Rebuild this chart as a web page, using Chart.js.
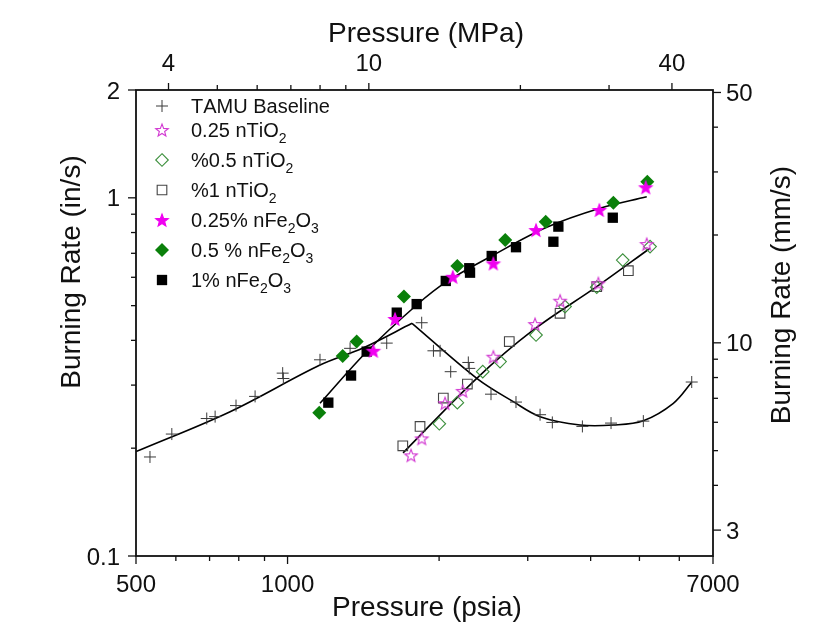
<!DOCTYPE html>
<html><head><meta charset="utf-8">
<script src="https://cdn.jsdelivr.net/npm/chart.js@4.4.1/dist/chart.umd.min.js"></script>
<style>html,body{margin:0;padding:0;background:#fff;}canvas{display:block;}</style>
</head><body>
<canvas id="c" width="836" height="643"></canvas>
<script>
// ---------- data (pressure in psia, burning rate in in/s) ----------
const tamuP = [533, 589, 691, 718, 790, 862, 978, 981, 1160, 1331, 1574, 1847, 1949, 2009, 2109, 2286, 2296, 2536, 2843, 3174, 3357, 3852, 4391, 5090, 6351];
const tamuR = [0.189, 0.219, 0.242, 0.245, 0.263, 0.279, 0.324, 0.313, 0.353, 0.380, 0.393, 0.448, 0.374, 0.374, 0.327, 0.347, 0.334, 0.283, 0.269, 0.248, 0.236, 0.230, 0.235, 0.238, 0.306];

const tio025P = [1759, 1847, 2055, 2228, 2563, 3102, 3478, 4143, 5170];
const tio025R = [0.191, 0.213, 0.267, 0.289, 0.360, 0.444, 0.516, 0.577, 0.743];

const tio05P = [2002, 2174, 2442, 2643, 3116, 3558, 4113, 4632, 5249];
const tio05R = [0.234, 0.268, 0.327, 0.349, 0.414, 0.497, 0.563, 0.670, 0.731];

const tio1P = [1694, 1833, 2039, 2276, 2757, 3478, 4113, 4753];
const tio1R = [0.203, 0.230, 0.276, 0.302, 0.397, 0.476, 0.565, 0.626];

const fe025P = [1481, 1635, 2129, 2563, 3116, 4162, 5146];
const fe025R = [0.374, 0.459, 0.602, 0.656, 0.813, 0.925, 1.070];

const fe05P = [1156, 1287, 1372, 1703, 2174, 2707, 3257, 4438, 5184];
const fe05R = [0.251, 0.362, 0.397, 0.530, 0.645, 0.763, 0.858, 0.969, 1.109];

const fe1P = [1205, 1337, 1436, 1648, 1805, 2062, 2296, 2304, 2544, 2843, 3373, 3451, 4426];
const fe1R = [0.268, 0.319, 0.372, 0.478, 0.505, 0.586, 0.636, 0.618, 0.688, 0.728, 0.754, 0.831, 0.880];

// fitted curves
const tamuRiseP = [500, 769, 1160, 1412, 1767];
const tamuRiseR = [0.1956, 0.2529, 0.3414, 0.3808, 0.4463];
const tamuFallP = [1767, 2376, 2808, 3174, 3810, 4438, 5090, 5839, 6351];
const tamuFallR = [0.4463, 0.3134, 0.2697, 0.2449, 0.2321, 0.2321, 0.2386, 0.2669, 0.3055];
const feFitP = [1160, 1436, 1805, 2071, 2544, 3272, 4175, 5170];
const feFitR = [0.2669, 0.3719, 0.5021, 0.5832, 0.688, 0.8274, 0.935, 1.007];
const tiFitP = [1696, 2376, 3078, 4113, 5249];
const tiFitR = [0.194, 0.3134, 0.4276, 0.5648, 0.7231];

// ---------- axis ticks ----------
const xMajorTicks = [500, 1000, 7000];
const xMinorTicks = [600, 700, 800, 900, 2000, 3000, 4000, 5000, 6000];
const yMajorTicks = [0.1, 1, 2];
const yMinorTicks = [0.2, 0.3, 0.4, 0.5, 0.6, 0.7, 0.8, 0.9];
const topMajorTicks = [4, 10, 40];
const topMinorTicks = [5, 6, 7, 8, 9, 20, 30];
const rightMajorTicks = [3, 10, 50];
const rightMinorTicks = [4, 5, 6, 7, 8, 9, 20, 30, 40];

const legendLabels = ['TAMU Baseline', '0.25 nTiO_2', '%0.5 nTiO_2', '%1 nTiO_2', '0.25% nFe_2O_3', '0.5 % nFe_2O_3', '1% nFe_2O_3'];

const PSI_PER_MPA = 145.038;
const MM_PER_IN = 25.4;
const FONT = '"Liberation Sans", Arial, sans-serif';

function pts(P, R) { return P.map((p, i) => ({ x: p, y: R[i] })); }

function starCanvas(fill, stroke, R) {
  const s = Math.ceil(R * 2 + 4);
  const c = document.createElement('canvas'); c.width = c.height = s;
  const g = c.getContext('2d');
  starPath(g, s / 2, s / 2 + R * 0.1, R);
  if (fill) { g.fillStyle = fill; g.fill(); }
  if (stroke) { g.strokeStyle = stroke; g.lineWidth = 1.1; g.stroke(); }
  return c;
}
function starPath(g, cx, cy, R) {
  g.beginPath();
  for (let i = 0; i < 10; i++) {
    const r = i % 2 ? R * 0.42 : R;
    const a = -Math.PI / 2 + i * Math.PI / 5;
    g.lineTo(cx + r * Math.cos(a), cy + r * Math.sin(a));
  }
  g.closePath();
}

const openStar = starCanvas(null, '#d23ad2', 6.6);
const fillStar = starCanvas('#f000f0', '#f000f0', 6.6);

const series = [
  { label: legendLabels[0], data: pts(tamuP, tamuR), pointStyle: 'cross', pointRadius: 6, borderColor: '#3a3a3a', backgroundColor: '#3a3a3a', pointBorderWidth: 1 },
  { label: legendLabels[1], data: pts(tio025P, tio025R), pointStyle: openStar, pointRadius: 7, borderColor: '#d23ad2', backgroundColor: 'rgba(0,0,0,0)' },
  { label: legendLabels[2], data: pts(tio05P, tio05R), pointStyle: 'rectRot', pointRadius: 6.3, borderColor: '#3c8f3c', backgroundColor: 'rgba(0,0,0,0)', pointBorderWidth: 1.1 },
  { label: legendLabels[3], data: pts(tio1P, tio1R), pointStyle: 'rect', pointRadius: 6.8, borderColor: '#444', backgroundColor: 'rgba(0,0,0,0)', pointBorderWidth: 1.1 },
  { label: legendLabels[4], data: pts(fe025P, fe025R), pointStyle: fillStar, pointRadius: 7, borderColor: '#f000f0', backgroundColor: '#f000f0' },
  { label: legendLabels[5], data: pts(fe05P, fe05R), pointStyle: 'rectRot', pointRadius: 7, borderColor: '#0a800a', backgroundColor: '#0a800a', pointBorderWidth: 0 },
  { label: legendLabels[6], data: pts(fe1P, fe1R), pointStyle: 'rect', pointRadius: 7.3, borderColor: '#000', backgroundColor: '#000', pointBorderWidth: 0 },
];

function curve(P, R) {
  return { type: 'line', data: pts(P, R), borderColor: '#000', borderWidth: 1.6, pointRadius: 0, tension: 0.35, fill: false, order: 10 };
}

const datasets = series.map(s => Object.assign({ showLine: false, order: 1 }, s)).concat([
  curve(tamuRiseP, tamuRiseR), curve(tamuFallP, tamuFallR), curve(feFitP, feFitR), curve(tiFitP, tiFitR)
]);

function drawSymbol(ctx, s, x, y) {
  const st = s.pointStyle, r = s.pointRadius;
  ctx.save();
  ctx.strokeStyle = s.borderColor; ctx.fillStyle = s.backgroundColor;
  ctx.lineWidth = s.pointBorderWidth || 1;
  if (st instanceof HTMLCanvasElement) {
    ctx.drawImage(st, x - st.width / 2, y - st.height / 2);
  } else if (st === 'cross') {
    ctx.beginPath(); ctx.moveTo(x - r, y); ctx.lineTo(x + r, y); ctx.moveTo(x, y - r); ctx.lineTo(x, y + r); ctx.stroke();
  } else if (st === 'rect') {
    const h = r * Math.SQRT1_2;
    ctx.beginPath(); ctx.rect(x - h, y - h, 2 * h, 2 * h); ctx.fill(); if (s.pointBorderWidth) ctx.stroke();
  } else if (st === 'rectRot') {
    ctx.beginPath(); ctx.moveTo(x, y - r); ctx.lineTo(x + r, y); ctx.lineTo(x, y + r); ctx.lineTo(x - r, y); ctx.closePath();
    ctx.fill(); if (s.pointBorderWidth) ctx.stroke();
  }
  ctx.restore();
}

function drawRich(ctx, text, x, y) {
  // "_d" marks a subscript digit
  let cx = x;
  for (let i = 0; i < text.length; i++) {
    const ch = text[i];
    if (ch === '_' && i + 1 < text.length) {
      ctx.font = '14px ' + FONT;
      ctx.fillText(text[i + 1], cx, y + 6);
      cx += ctx.measureText(text[i + 1]).width;
      i++;
    } else {
      ctx.font = '20px ' + FONT;
      ctx.fillText(ch, cx, y);
      cx += ctx.measureText(ch).width;
    }
  }
}

const axesPlugin = {
  id: 'axesPlugin',
  afterDraw(chart) {
    const { ctx, chartArea: a, scales } = chart;
    const sx = scales.x, sy = scales.y, sx2 = scales.x2, sy2 = scales.y2;
    ctx.save();
    ctx.strokeStyle = '#111'; ctx.fillStyle = '#111';
    ctx.lineWidth = 1.8;
    ctx.strokeRect(a.left, a.top, a.right - a.left, a.bottom - a.top);

    ctx.lineWidth = 1.3;
    const tick = (x1, y1, x2, y2) => { ctx.beginPath(); ctx.moveTo(x1, y1); ctx.lineTo(x2, y2); ctx.stroke(); };
    // bottom
    xMajorTicks.forEach(v => { const px = sx.getPixelForValue(v); tick(px, a.bottom, px, a.bottom + 8); });
    xMinorTicks.forEach(v => { const px = sx.getPixelForValue(v); tick(px, a.bottom, px, a.bottom + 5); });
    // left
    yMajorTicks.forEach(v => { const py = sy.getPixelForValue(v); tick(a.left, py, a.left - 8, py); });
    yMinorTicks.forEach(v => { const py = sy.getPixelForValue(v); tick(a.left, py, a.left - 5, py); });
    // top
    topMajorTicks.forEach(v => { const px = sx2.getPixelForValue(v); tick(px, a.top, px, a.top - 7); });
    topMinorTicks.forEach(v => { const px = sx2.getPixelForValue(v); tick(px, a.top, px, a.top - 5); });
    // right
    rightMajorTicks.forEach(v => { const py = sy2.getPixelForValue(v); tick(a.right, py, a.right + 8, py); });
    rightMinorTicks.forEach(v => { const py = sy2.getPixelForValue(v); tick(a.right, py, a.right + 5, py); });

    // tick labels
    ctx.font = '24px ' + FONT;
    ctx.textBaseline = 'alphabetic';
    ctx.textAlign = 'center';
    xMajorTicks.forEach(v => ctx.fillText(String(v), sx.getPixelForValue(v), a.bottom + 36));
    topMajorTicks.forEach(v => ctx.fillText(String(v), sx2.getPixelForValue(v), a.top - 19));
    ctx.textAlign = 'right';
    yMajorTicks.forEach(v => ctx.fillText(String(v), a.left - 16, sy.getPixelForValue(v) + 8.5));
    ctx.textAlign = 'left';
    rightMajorTicks.forEach(v => ctx.fillText(String(v), a.right + 13, sy2.getPixelForValue(v) + 8.5));

    // axis titles
    ctx.font = '28px ' + FONT;
    ctx.textAlign = 'center';
    ctx.fillText('Pressure (psia)', 427, 616);
    ctx.fillText('Pressure (MPa)', 426, 42);
    ctx.save(); ctx.translate(80, 272); ctx.rotate(-Math.PI / 2); ctx.fillText('Burning Rate (in/s)', 0, 0); ctx.restore();
    ctx.save(); ctx.translate(790, 295); ctx.rotate(-Math.PI / 2); ctx.fillText('Burning Rate (mm/s)', 0, 0); ctx.restore();

    // legend
    const rows = [106, 130, 160, 190, 220, 250, 280];
    ctx.textAlign = 'left';
    series.forEach((s, i) => {
      drawSymbol(ctx, s, 162, rows[i]);
      ctx.fillStyle = '#111';
      drawRich(ctx, s.label, 191, rows[i] + 7);
    });
    ctx.restore();
  }
};

new Chart(document.getElementById('c'), {
  type: 'scatter',
  data: { datasets },
  options: {
    responsive: false, animation: false, devicePixelRatio: 1,
    layout: { padding: { left: 136, top: 90, right: 123, bottom: 87 } },
    plugins: { legend: { display: false }, tooltip: { enabled: false }, title: { display: false } },
    scales: {
      x: { type: 'logarithmic', min: 500, max: 7000, display: false },
      y: { type: 'logarithmic', min: 0.1, max: 2, display: false },
      x2: { type: 'logarithmic', axis: 'x', position: 'top', min: 500 / PSI_PER_MPA, max: 7000 / PSI_PER_MPA, display: false },
      y2: { type: 'logarithmic', axis: 'y', position: 'right', min: 0.1 * MM_PER_IN, max: 2 * MM_PER_IN, display: false }
    }
  },
  plugins: [axesPlugin]
});
</script>
</body></html>
